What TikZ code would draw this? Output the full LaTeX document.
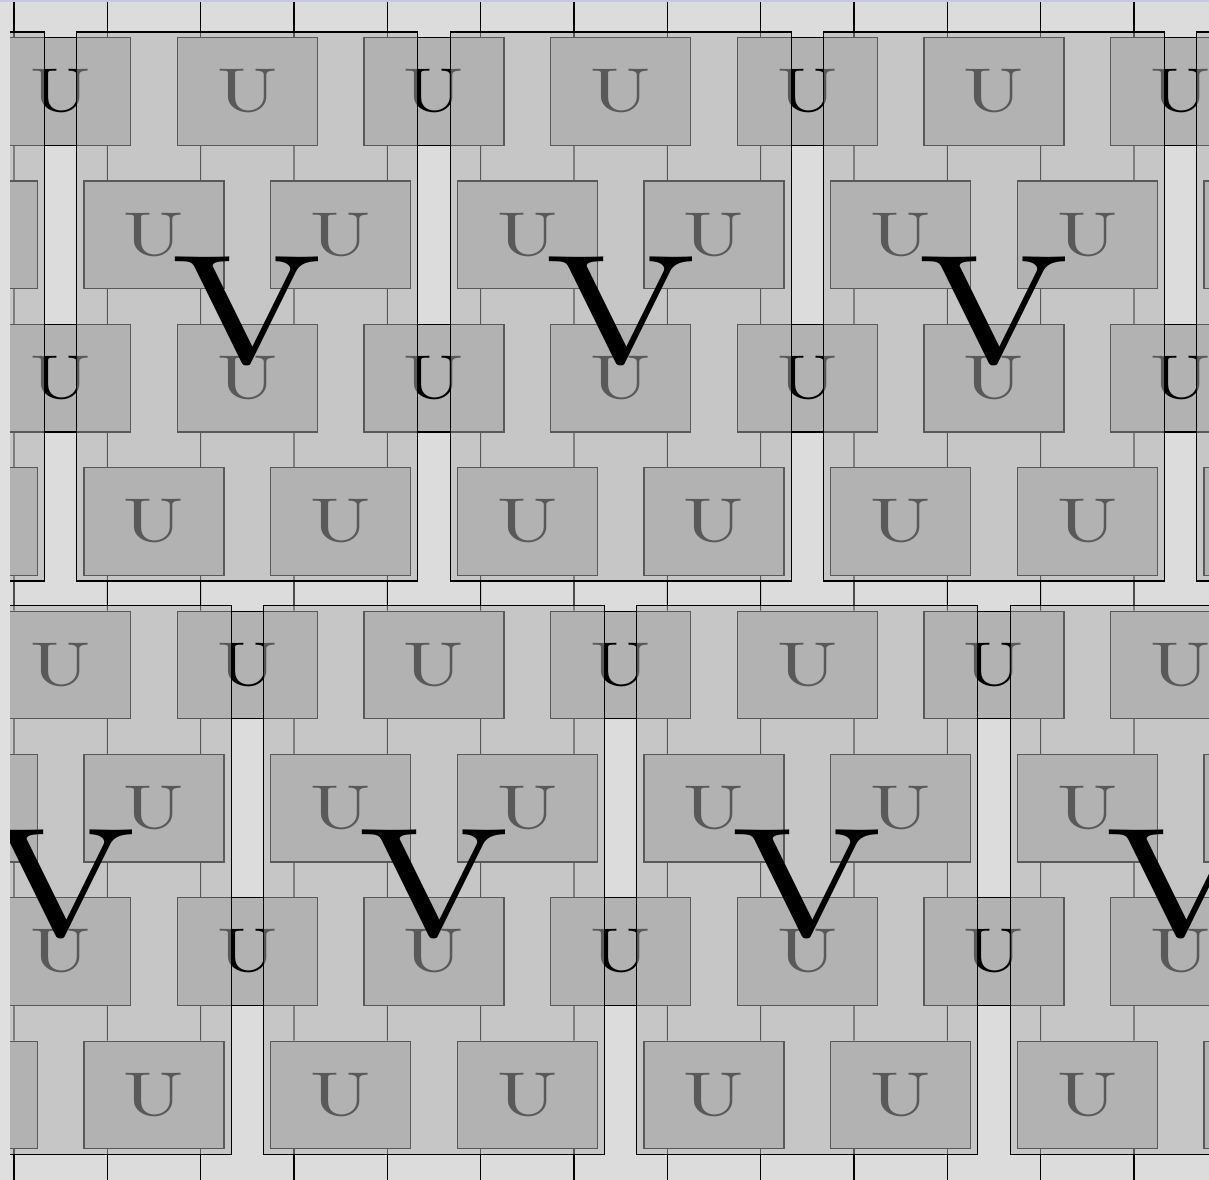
\documentclass[tikz,border=0pt]{standalone}
\usepackage{graphicx}
\definecolor{bgpage}{RGB}{223,223,223}
\definecolor{bgin}{RGB}{220,220,220}
\definecolor{topline}{RGB}{196,200,226}
\definecolor{boxfill}{RGB}{178,178,178}
\newcommand{\ulabel}{\scalebox{6.03}[4.64]{U}}
\newcommand{\vlabel}{\raisebox{-2.5pt}[\height][0pt]{\scalebox{15.1}[11.6]{V}}}
\begin{document}
\begin{tikzpicture}[x=0.75pt,y=-0.75pt,
  ubox/.style={draw=black,line width=0.9pt,fill=boxfill,minimum width=105pt,minimum height=80.6pt,inner sep=0pt,font=\fontsize{10}{12}\selectfont},
  vbox/.style={draw=black,line width=0.8pt,fill=boxfill,fill opacity=0.5,draw opacity=1,text opacity=1,minimum width=255.75pt,minimum height=411.75pt,inner sep=0pt,font=\fontsize{10}{12}\selectfont},
  link/.style={draw=black,line width=0.8pt}]
\useasboundingbox (0,0) rectangle (1209,1180);
\fill[bgpage] (0,0) rectangle (1209,1180);
\begin{scope}
\clip (10,2) rectangle (1209,1180);
\fill[bgin] (10,2) rectangle (1209,1180);
% U nodes
\foreach \i in {0,...,7}{
  \foreach \j in {0,...,7}{
    \pgfmathtruncatemacro\k{2*\j-1+mod(\i+1,2)}
    \node[ubox] (u-\i-\k) at ({60.667+93.333*\k},{91.5+143.333*\i}) {\ulabel};
  }
}
% connectors between rows
\foreach \i in {0,...,6}{
  \pgfmathtruncatemacro\inext{\i+1}
  \foreach \m in {0,...,13}{
    \pgfmathtruncatemacro\pp{mod(\m+\i,2)}
    \pgfmathtruncatemacro\mprev{\m-1}
    \ifnum\pp=0
      \draw[link] ([xshift=-35pt]u-\i-\m.south) -- ([xshift=35pt]u-\inext-\mprev.north);
    \else
      \draw[link] ([xshift=35pt]u-\i-\mprev.south) -- ([xshift=-35pt]u-\inext-\m.north);
    \fi
  }
}
% top and bottom free ends
\foreach \m in {0,...,13}{
  \pgfmathtruncatemacro\pp{mod(\m,2)}
  \pgfmathtruncatemacro\mprev{\m-1}
  \ifnum\pp=0
    \draw[link] ([xshift=-35pt]u-0-\m.north) -- ++(0,-40);
    \draw[link] ([xshift=35pt]u-7-\mprev.south) -- ++(0,40);
  \else
    \draw[link] ([xshift=35pt]u-0-\mprev.north) -- ++(0,-40);
    \draw[link] ([xshift=-35pt]u-7-\m.south) -- ++(0,40);
  \fi
}
% V overlays
\foreach \n in {-1,...,3}{
  \node[vbox] (va-\n) at ({247.333+373.333*\n},306.5) {\vlabel};
}
\foreach \n in {0,...,3}{
  \node[vbox] (vb-\n) at ({60.667+373.333*\n},879.833) {\vlabel};
}
\end{scope}
\fill[topline] (0,0) rectangle (1209,2);
\end{tikzpicture}
\end{document}
